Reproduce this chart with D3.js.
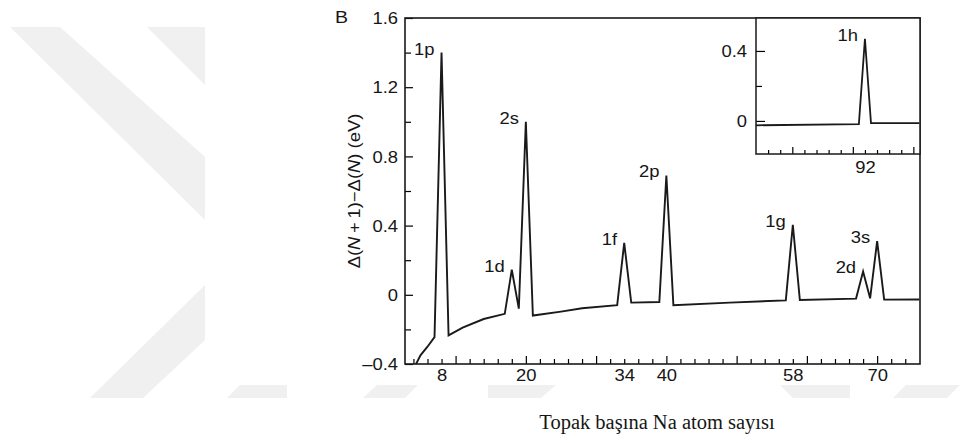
<!DOCTYPE html>
<html>
<head>
<meta charset="utf-8">
<script src="https://cdn.jsdelivr.net/npm/d3@7"></script>
<style>
  body { margin: 0; background: #fff; }
  svg { display: block; }
  text { font-family: "Liberation Sans", Arial, Helvetica, sans-serif; fill: #161616; }
</style>
</head>
<body>
<script>
// Second difference of the electronic gap vs. number of Na atoms per cluster
const clusterSize = [4, 5, 6, 7, 8, 9, 11, 14, 17, 18, 19, 20, 21, 25, 28, 33, 34, 35, 39, 40, 41, 49, 57, 58, 59, 67, 68, 69, 70, 71, 76];
const gapDiff = [-0.43, -0.35, -0.30, -0.245, 1.40, -0.235, -0.19, -0.14, -0.11, 0.145, -0.08, 1.00, -0.12, -0.097, -0.078, -0.06, 0.30, -0.045, -0.042, 0.69, -0.06, -0.045, -0.032, 0.405, -0.03, -0.022, 0.135, -0.02, 0.31, -0.028, -0.027];

// Inset: region around the 1h shell closing
const insetSize = [74, 91, 92, 93, 101];
const insetDiff = [-0.025, -0.018, 0.47, -0.012, -0.012];

// Shell labels placed at their closing cluster sizes
const shellNames = ["1p", "1d", "2s", "1f", "2p", "1g", "2d", "3s"];
const shellAt = [8, 18, 20, 34, 40, 58, 68, 70];
const insetShellNames = ["1h"];
const insetShellAt = [92];

// Tick values and labels
const xTickLabels = [8, 20, 34, 40, 58, 70];
const yTickLabels = [-0.4, 0, 0.4, 0.8, 1.2, 1.6];
const insetXTickLabels = [92];
const insetYTickLabels = [0, 0.4];

const W = 979, H = 443;
const STRETCH = 1.15;
const FS = 16;

const svg = d3.select("body").append("svg")
  .attr("width", W).attr("height", H)
  .attr("viewBox", `0 0 ${W} ${H}`);

// faint background watermark bands
const wm = svg.append("g").attr("fill", "#f0f0f0");
[
  [[10, 27], [60, 27], [205, 157], [205, 220]],
  [[147, 27], [205, 27], [205, 85]],
  [[90, 398], [143, 398], [205, 340], [205, 285]],
  [[227, 398], [240, 385], [287, 385], [287, 398]],
  [[363, 398], [377, 385], [418, 385], [405, 398]],
  [[488, 385], [556, 385], [541, 398], [488, 398]],
  [[780, 385], [850, 385], [850, 398], [793, 398]],
  [[893, 398], [906, 385], [960, 385], [947, 398]]
].forEach(p => wm.append("polygon").attr("points", p.map(d => d.join(",")).join(" ")));

const fmt = d => d === 0 ? "0" : (d < 0 ? "\u2013" + Math.abs(d).toFixed(1) : d.toFixed(1));

// ---------- main panel ----------
const x = d3.scaleLinear().domain([2.8, 76.1]).range([405, 920]);
const y = d3.scaleLinear().domain([-0.4, 1.6]).range([364, 18]);

svg.append("defs").append("clipPath").attr("id", "mainClip")
  .append("rect").attr("x", 405).attr("y", 18).attr("width", 515).attr("height", 346);

const line = d3.line().x(d => x(d[0])).y(d => y(d[1]));
svg.append("path")
  .datum(clusterSize.map((n, i) => [n, gapDiff[i]]))
  .attr("clip-path", "url(#mainClip)")
  .attr("d", line)
  .attr("fill", "none").attr("stroke", "#1a1a1a")
  .attr("stroke-width", 1.9).attr("stroke-linejoin", "miter");

// bottom axis: tick marks pointing inward
const xTicks = d3.range(4, 75, 2);
const gx = svg.append("g").attr("transform", `translate(0,364)`)
  .call(d3.axisBottom(x).tickValues(xTicks).tickSizeInner(-5).tickSizeOuter(0).tickFormat(""));
gx.selectAll(".tick line").attr("y2", d => d % 10 === 0 ? -8 : -5).attr("stroke-width", 1.2);
gx.select(".domain").remove();

const gxl = svg.append("g").attr("transform", `translate(0,364)`)
  .call(d3.axisBottom(x).tickValues(xTickLabels).tickSize(0).tickPadding(6).tickFormat(d => d));
gxl.select(".domain").remove();
gxl.selectAll("text").attr("font-size", FS).attr("fill", "#161616")
  .attr("font-family", null).attr("transform", `scale(${STRETCH},1)`);

// left axis: tick marks pointing inward, labels outside
const yTicks = d3.range(-0.4, 1.61, 0.2).map(v => Math.round(v * 10) / 10);
const gy = svg.append("g").attr("transform", `translate(405,0)`)
  .call(d3.axisLeft(y).tickValues(yTicks).tickSizeInner(-6).tickSizeOuter(0).tickFormat(""));
gy.selectAll(".tick line").attr("x2", d => yTickLabels.includes(d) ? 8 : 6).attr("stroke-width", 1.2);
gy.select(".domain").remove();

const gyl = svg.append("g").attr("transform", `translate(405,0)`)
  .call(d3.axisLeft(y).tickValues(yTickLabels).tickSize(0).tickFormat(fmt));
gyl.select(".domain").remove();
gyl.selectAll("text").attr("font-size", FS).attr("fill", "#161616").attr("font-family", null)
  .attr("x", 0).attr("dy", "0.36em")
  .attr("transform", `translate(-7,0) scale(${STRETCH},1)`);

// frame
svg.append("rect").attr("x", 405).attr("y", 18).attr("width", 515).attr("height", 346)
  .attr("fill", "none").attr("stroke", "#1a1a1a").attr("stroke-width", 1.6);

// shell labels
function peakLabel(g, name, px, py) {
  g.append("text").attr("text-anchor", "end").attr("font-size", FS)
    .attr("transform", `translate(${px - 7},${py + 2}) scale(${STRETCH},1)`)
    .text(name);
}
shellNames.forEach((name, i) => {
  const n = shellAt[i];
  const v = gapDiff[clusterSize.indexOf(n)];
  peakLabel(svg, name, x(n), y(v));
});

// ---------- inset ----------
const xi = d3.scaleLinear().domain([74, 101.1]).range([756, 920]);
const yi = d3.scaleLinear().domain([-0.189, 0.594]).range([154, 17]);

svg.append("rect").attr("x", 756).attr("y", 18).attr("width", 164).attr("height", 136)
  .attr("fill", "#fff");

svg.append("defs").append("clipPath").attr("id", "insetClip")
  .append("rect").attr("x", 756).attr("y", 18).attr("width", 164).attr("height", 136);

const lineI = d3.line().x(d => xi(d[0])).y(d => yi(d[1]));
svg.append("path")
  .datum(insetSize.map((n, i) => [n, insetDiff[i]]))
  .attr("clip-path", "url(#insetClip)")
  .attr("d", lineI)
  .attr("fill", "none").attr("stroke", "#1a1a1a").attr("stroke-width", 1.8);

const gxi = svg.append("g").attr("transform", `translate(0,154)`)
  .call(d3.axisBottom(xi).tickValues(d3.range(76, 100.1, 2)).tickSizeInner(-4).tickSizeOuter(0).tickFormat(""));
gxi.selectAll(".tick line").attr("y2", d => d % 10 === 0 ? -7 : -4).attr("stroke-width", 1.2);
gxi.select(".domain").remove();

const gxil = svg.append("g").attr("transform", `translate(0,154)`)
  .call(d3.axisBottom(xi).tickValues(insetXTickLabels).tickSize(0).tickPadding(8).tickFormat(d => d));
gxil.select(".domain").remove();
gxil.selectAll("text").attr("font-size", FS).attr("fill", "#161616")
  .attr("font-family", null).attr("transform", `scale(${STRETCH},1)`);

const gyi = svg.append("g").attr("transform", `translate(756,0)`)
  .call(d3.axisLeft(yi).tickValues([0, 0.2, 0.4]).tickSizeInner(-6).tickSizeOuter(0).tickFormat(""));
gyi.selectAll(".tick line").attr("x2", d => insetYTickLabels.includes(d) ? 9 : 6).attr("stroke-width", 1.2);
gyi.select(".domain").remove();

const gyil = svg.append("g").attr("transform", `translate(756,0)`)
  .call(d3.axisLeft(yi).tickValues(insetYTickLabels).tickSize(0).tickFormat(fmt));
gyil.select(".domain").remove();
gyil.selectAll("text").attr("font-size", FS).attr("fill", "#161616").attr("font-family", null)
  .attr("x", 0).attr("dy", "0.36em")
  .attr("transform", `translate(-9,0) scale(${STRETCH},1)`);

svg.append("rect").attr("x", 756).attr("y", 18).attr("width", 164).attr("height", 136)
  .attr("fill", "none").attr("stroke", "#1a1a1a").attr("stroke-width", 1.5);

insetShellNames.forEach((name, i) => {
  const n = insetShellAt[i];
  const v = insetDiff[insetSize.indexOf(n)];
  peakLabel(svg, name, xi(n), yi(v));
});

// ---------- titles ----------
svg.append("text").attr("font-size", 17)
  .attr("transform", `translate(335,23) scale(${STRETCH},1)`).text("B");

const yTitle = svg.append("text").attr("font-size", FS).attr("text-anchor", "middle")
  .attr("transform", `translate(360,191) rotate(-90) scale(${STRETCH},1)`);
yTitle.append("tspan").text("\u0394(");
yTitle.append("tspan").attr("font-style", "italic").text("N");
yTitle.append("tspan").text("\u2009+\u20091)\u2212\u0394(");
yTitle.append("tspan").attr("font-style", "italic").text("N");
yTitle.append("tspan").text(") (eV)");

svg.append("text")
  .attr("x", 657).attr("y", 429)
  .attr("text-anchor", "middle")
  .attr("font-size", 20.5)
  .style("font-family", "'Liberation Serif', 'Times New Roman', serif")
  .text("Topak başına Na atom sayısı");
</script>
</body>
</html>
